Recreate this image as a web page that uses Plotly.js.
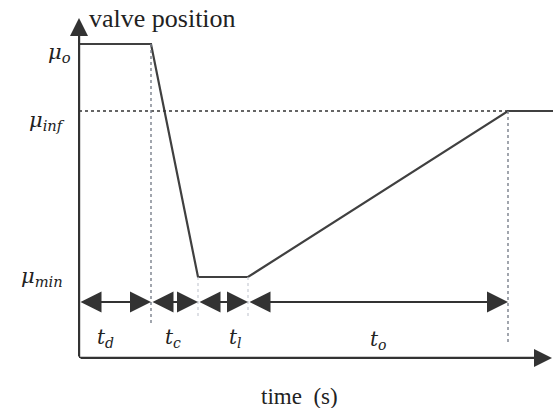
<!DOCTYPE html>
<html>
<head>
<meta charset="utf-8">
<script src="https://cdn.plot.ly/plotly-3.0.1.min.js"></script>
<style>html,body{margin:0;padding:0;background:#fff;}#chart{width:553px;height:408px;}</style>
</head>
<body>
<div id="chart"></div>
<script>
// ---- data (schematic values) ----
const phaseNames = ['d', 'c', 'l', 'o'];          // t_d, t_c, t_l, t_o
const phaseDurations = [7.2, 4.7, 5.0, 26.0];      // time units
const levelNames = ['o', 'inf', 'min'];           // μ_o, μ_inf, μ_min
const levelValues = [31.4, 24.7, 8.1];
const tailDuration = 4.5;                          // flat part after t_o

// ---- derived ----
const muO = levelValues[0], muInf = levelValues[1], muMin = levelValues[2];
const bounds = [0];
phaseDurations.forEach(d => bounds.push(bounds[bounds.length - 1] + d));
const tEnd = bounds[4] + tailDuration;
const curveT = [bounds[0], bounds[1], bounds[2], bounds[3], bounds[4], tEnd];
const curveMu = [muO, muO, muMin, muMin, muInf, muInf];

// ---- styling constants ----
const FONT = 'Liberation Serif';
const IFONT = 'DejaVu Serif';
const INK = '#333333';
const arrowRowY = 5.6;
const labelRowY = 2.0;
const yTop = 35;

const traces = [{
  x: curveT, y: curveMu, mode: 'lines', type: 'scatter',
  line: {color: '#404040', width: 2.2}, hoverinfo: 'skip', showlegend: false
}];

const shapes = [
  {type: 'line', xref: 'x', yref: 'y', x0: 0, x1: bounds[4], y0: muInf, y1: muInf,
   line: {color: '#333', width: 1.6, dash: 'dot'}},
  {type: 'line', xref: 'x', yref: 'y', x0: bounds[1], x1: bounds[1], y0: muO, y1: 3.5,
   line: {color: '#7a808c', width: 1.4, dash: 'dot'}},
  {type: 'line', xref: 'x', yref: 'y', x0: bounds[2], x1: bounds[2], y0: muMin, y1: 4.0,
   line: {color: '#c8ccd4', width: 1.2, dash: 'dot'}},
  {type: 'line', xref: 'x', yref: 'y', x0: bounds[3], x1: bounds[3], y0: muMin, y1: 4.0,
   line: {color: '#c8ccd4', width: 1.2, dash: 'dot'}},
  {type: 'line', xref: 'x', yref: 'y', x0: bounds[4], x1: bounds[4], y0: muInf, y1: 1.5,
   line: {color: '#7a808c', width: 1.4, dash: 'dot'}},
  {type: 'line', xref: 'x', yref: 'y', x0: 0, x1: 0, y0: 0, y1: 32.5,
   line: {color: INK, width: 2.4}},
  {type: 'line', xref: 'x', yref: 'y', x0: 0, x1: 46.0, y0: 0, y1: 0,
   line: {color: INK, width: 2.4}}
];

const annotations = [];
annotations.push({x: 0, y: 34.0, ax: 0, ay: 0, xref: 'x', yref: 'y', axref: 'x', ayref: 'y',
  text: '', showarrow: true, arrowhead: 2, arrowsize: 1.8, arrowwidth: 2, arrowcolor: INK});
annotations.push({x: 47.3, y: 0, ax: 0, ay: 0, xref: 'x', yref: 'y', axref: 'x', ayref: 'y',
  text: '', showarrow: true, arrowhead: 2, arrowsize: 1.8, arrowwidth: 2, arrowcolor: INK});

const tFont = {family: IFONT, size: 20, color: '#222', style: 'italic'};
const muFont = {family: IFONT, size: 21, color: '#222', style: 'italic'};

const labelShift = [-10, -2, 12, 0];
for (let i = 0; i < phaseNames.length; i++) {
  annotations.push({x: bounds[i + 1], y: arrowRowY, ax: bounds[i], ay: arrowRowY,
    xref: 'x', yref: 'y', axref: 'x', ayref: 'y', text: '', showarrow: true,
    arrowhead: 2, startarrowhead: 2, arrowside: 'end+start', arrowsize: 2.1, startarrowsize: 2.1,
    arrowwidth: 2, arrowcolor: INK});
  annotations.push({x: (bounds[i] + bounds[i + 1]) / 2, y: labelRowY, xref: 'x', yref: 'y',
    xshift: labelShift[i], yshift: i === 3 ? -2 : 0,
    text: 't<sub>' + phaseNames[i] + '</sub>', showarrow: false, font: tFont});
}

const levelXShift = [-6, -12, -14];
const levelYShift = [-9, -10, 0];
for (let i = 0; i < levelNames.length; i++) {
  annotations.push({x: 0, y: levelValues[i], xref: 'x', yref: 'y', xanchor: 'right',
    xshift: levelXShift[i], yshift: levelYShift[i], showarrow: false,
    text: '\u03bc<sub>' + levelNames[i] + '</sub>', font: muFont});
}

annotations.push({x: 0, y: 34.0, xref: 'x', yref: 'y', xanchor: 'left', xshift: 8, yshift: 0,
  text: 'valve position', showarrow: false, font: {family: FONT, size: 26, color: '#222'}});
annotations.push({x: 0.5, y: 0, xref: 'paper', yref: 'paper', xanchor: 'left', yanchor: 'top',
  xshift: -57, yshift: -24,
  text: 'time\u00a0\u00a0(s)', showarrow: false, font: {family: FONT, size: 23, color: '#222'}});

const layout = {
  width: 553, height: 408,
  margin: {l: 79, r: 0, t: 8, b: 50},
  paper_bgcolor: '#fff', plot_bgcolor: '#fff',
  xaxis: {range: [0, 47.4], showgrid: false, zeroline: false, showticklabels: false,
          ticks: '', showline: false, fixedrange: true},
  yaxis: {range: [0, yTop], showgrid: false, zeroline: false, showticklabels: false,
          ticks: '', showline: false, fixedrange: true},
  shapes: shapes,
  annotations: annotations,
  showlegend: false
};

Plotly.newPlot('chart', traces, layout, {staticPlot: true, displayModeBar: false});
</script>
</body>
</html>
